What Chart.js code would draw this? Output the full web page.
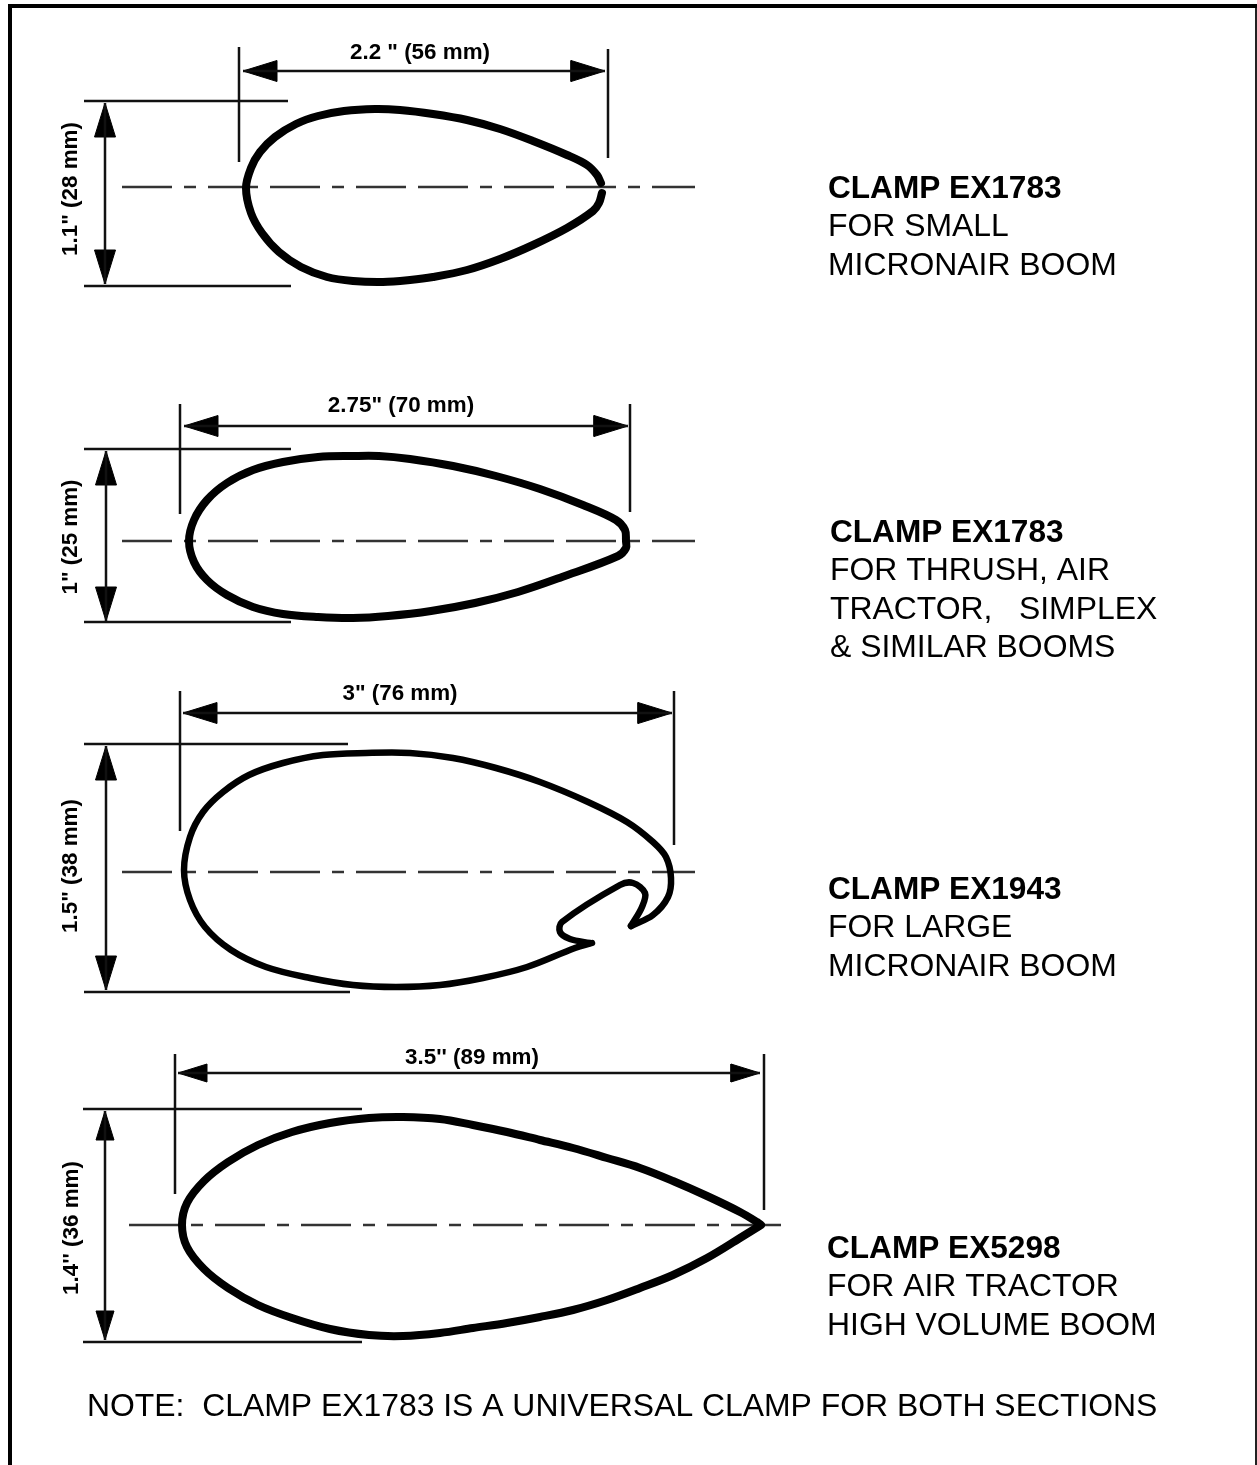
<!DOCTYPE html>
<html>
<head>
<meta charset="utf-8">
<title>Clamps</title>
<script src="https://cdn.jsdelivr.net/npm/chart.js@4/dist/chart.umd.min.js"></script>
<style>
  html, body { margin: 0; padding: 0; background: #fff; }
  canvas { display: block; }
</style>
</head>
<body>
<canvas id="grafico" width="1257" height="1465"></canvas>
<script>
// --- Clamp outlines ---
const clampSmall = [
    [601, 183], [597, 175], [587, 165], [567, 155], [533, 141], [500, 129], [467, 120], [433, 114],
    [400, 110], [375, 109], [344, 111], [318, 116], [296, 124], [275, 137], [260, 152], [251, 168],
    [246, 188], [251, 213], [262, 233], [279, 252], [301, 267], [327, 277], [353, 281], [383, 282],
    [410, 280], [433, 277], [467, 270], [500, 259], [533, 245], [567, 228], [593, 211], [599, 203], [602, 193]
];
const clampThrush = [
    [626, 541], [625, 530], [616, 520], [583, 505], [540, 489], [496, 476], [453, 466], [410, 459],
    [379, 456], [353, 456], [318, 457], [283, 462], [253, 470], [227, 483], [207, 500], [194, 520],
    [189, 541], [194, 562], [207, 580], [227, 595], [253, 607], [283, 614], [318, 617], [353, 618],
    [388, 616], [431, 611], [475, 603], [518, 592], [562, 577], [618, 556], [626, 548], [626, 541]
];
const clampLargeOuter = [
    [631, 926], [653, 915], [668, 897], [671, 878], [666, 857], [653, 842], [627, 822], [588, 802],
    [540, 782], [496, 768], [453, 758], [410, 753], [366, 753], [323, 755], [283, 763], [249, 775],
    [223, 792], [203, 812], [190, 837], [184, 870], [190, 900], [205, 927], [231, 950], [266, 967],
    [310, 978], [353, 985], [396, 987], [440, 985], [483, 978], [527, 967], [575, 948], [592, 943]
];
const clampLargeInner = [
    [590, 943], [570, 939], [560, 932], [562, 922], [620, 885], [633, 883], [645, 893], [642, 907], [631, 926]
];
const clampTractor = [
    [761, 1225], [757, 1222], [740, 1212], [707, 1196], [673, 1181], [640, 1168], [607, 1158], [573, 1148],
    [540, 1140], [507, 1132], [473, 1125], [440, 1119], [403, 1117], [369, 1118], [330, 1123], [292, 1132],
    [258, 1145], [228, 1162], [204, 1181], [187, 1203], [182, 1225], [187, 1247], [204, 1269], [228, 1288],
    [258, 1305], [292, 1318], [330, 1329], [369, 1335], [403, 1336], [440, 1333], [473, 1328], [507, 1323],
    [540, 1317], [573, 1310], [607, 1300], [640, 1288], [673, 1275], [707, 1258], [740, 1238], [761, 1225]
];

// dimension lines: extension marks, guide lines and arrows [x1, y1, x2, y2]
const thinLines = [
    [239, 47, 239, 162], [608, 49, 608, 158], [84, 101, 288, 101], [84, 286, 291, 286],
    [180, 404, 180, 514], [630, 404, 630, 512], [84, 449, 291, 449], [84, 622, 291, 622],
    [180, 691, 180, 831], [674, 691, 674, 845], [84, 744, 348, 744], [84, 992, 350, 992],
    [175, 1054, 175, 1194], [764, 1054, 764, 1210], [83, 1109, 362, 1109], [83, 1342, 362, 1342]
];
const arrows = [
    [243, 71, 605, 71], [105, 103, 105, 284],
    [184, 426, 628, 426], [106, 451, 106, 621],
    [183, 713, 672, 713], [106, 746, 106, 990],
    [178, 1073, 760, 1073], [105, 1111, 105, 1340]
];
const centerLines = [
    [122, 187, 695, 187], [122, 541, 695, 541], [122, 872, 695, 872], [129, 1225, 781, 1225]
];
const frameLine = [[10, 1465], [10, 6], [1257, 6]];
const frameRight = [[1256, 6], [1256, 1465]];

// --- Texts ---
const sideLabels = [
    ['CLAMP EX1783', 'FOR SMALL', 'MICRONAIR BOOM'],
    ['CLAMP EX1783', 'FOR THRUSH, AIR', 'TRACTOR,   SIMPLEX', '& SIMILAR BOOMS'],
    ['CLAMP EX1943', 'FOR LARGE', 'MICRONAIR BOOM'],
    ['CLAMP EX5298', 'FOR AIR TRACTOR', 'HIGH VOLUME BOOM']
];
const widthLabels = ['2.2 " (56 mm)', '2.75" (70 mm)', '3" (76 mm)', "3.5'' (89 mm)"];
const heightLabels = ['1.1" (28 mm)', '1" (25 mm)', '1.5" (38 mm)', "1.4'' (36 mm)"];
const noteLabel = 'NOTE:  CLAMP EX1783 IS A UNIVERSAL CLAMP FOR BOTH SECTIONS';

// --- Layout of the texts ---
const FUENTE = '"Liberation Sans", Arial, sans-serif';
const sidePos = [[828, 198], [830, 542], [828, 899], [827, 1258]];
const sideGap = 38.3;
const widthPos = [[420, 59], [401, 412], [400, 700], [472, 1064]];
const heightPos = [[77, 189], [77, 537], [77, 866], [78, 1228]];

function pts(list) {
    return list.map(p => ({ x: p[0], y: p[1] }));
}

function lineSet(data, width, color, extra) {
    return Object.assign({
        data: data,
        showLine: true,
        borderColor: color,
        borderWidth: width,
        pointRadius: 0,
        fill: false
    }, extra || {});
}

function outlineSet(list, width) {
    return lineSet(pts(list), width, '#000', { tension: 0.35, borderCapStyle: 'round', borderJoinStyle: 'round' });
}

// arrow head as a closed triangle at the end of a dimension line
function headSet(x, y, dx, dy, largo, ancho) {
    const data = [
        { x: x, y: y },
        { x: x - dx * largo - dy * ancho, y: y - dy * largo - dx * ancho },
        { x: x - dx * largo + dy * ancho, y: y - dy * largo + dx * ancho },
        { x: x, y: y }
    ];
    return lineSet(data, 1, '#000', { fill: 'shape', backgroundColor: '#000' });
}

const datasets = [];
datasets.push(outlineSet(clampSmall, 8));
datasets.push(outlineSet(clampThrush, 8));
datasets.push(outlineSet(clampLargeOuter, 6.5));
datasets.push(outlineSet(clampLargeInner, 6.5));
datasets.push(outlineSet(clampTractor, 8));
datasets.push(lineSet(pts(frameLine), 4, '#000'));
datasets.push(lineSet(pts(frameRight), 2, '#222'));

thinLines.forEach(l => {
    datasets.push(lineSet([{ x: l[0], y: l[1] }, { x: l[2], y: l[3] }], 2.5, '#111'));
});
arrows.forEach((l, i) => {
    const dx = Math.sign(l[2] - l[0]), dy = Math.sign(l[3] - l[1]);
    const largo = i >= 6 ? 29 : 34, ancho = i >= 6 ? 9 : 10.5;
    datasets.push(lineSet([{ x: l[0], y: l[1] }, { x: l[2], y: l[3] }], 2.5, '#111'));
    datasets.push(headSet(l[2], l[3], dx, dy, largo, ancho));
    datasets.push(headSet(l[0], l[1], -dx, -dy, largo, ancho));
});
centerLines.forEach((l, i) => {
    const dash = i === 3 ? [50, 12, 12, 12] : [50, 12, 12, 12, 50, 12];
    datasets.push(lineSet([{ x: l[0], y: l[1] }, { x: l[2], y: l[3] }], 2.5, '#333', { borderDash: dash }));
});

// --- Texts drawn on the canvas, in the scale units ---
const textosPlugin = {
    id: 'textos',
    afterDatasetsDraw(chart) {
        const c = chart.ctx, sx = chart.scales.x, sy = chart.scales.y;
        c.save();
        c.fillStyle = '#000';
        c.textBaseline = 'alphabetic';

        sideLabels.forEach((lineas, i) => {
            lineas.forEach((t, j) => {
                c.font = (j === 0 ? 'bold 31.6px ' : '31.9px ') + FUENTE;
                c.textAlign = 'left';
                c.fillText(t, sx.getPixelForValue(sidePos[i][0]), sy.getPixelForValue(sidePos[i][1] + j * sideGap));
            });
        });

        c.font = 'bold 22.4px ' + FUENTE;
        c.textAlign = 'center';
        widthLabels.forEach((t, i) => {
            c.fillText(t, sx.getPixelForValue(widthPos[i][0]), sy.getPixelForValue(widthPos[i][1]));
        });
        heightLabels.forEach((t, i) => {
            c.save();
            c.translate(sx.getPixelForValue(heightPos[i][0]), sy.getPixelForValue(heightPos[i][1]));
            c.rotate(-Math.PI / 2);
            c.fillText(t, 0, 0);
            c.restore();
        });

        c.font = '31.9px ' + FUENTE;
        c.textAlign = 'left';
        c.fillText(noteLabel, sx.getPixelForValue(87), sy.getPixelForValue(1416));
        c.restore();
    }
};

new Chart(document.getElementById('grafico').getContext('2d'), {
    type: 'scatter',
    data: { datasets: datasets },
    options: {
        responsive: false,
        animation: false,
        devicePixelRatio: 1,
        layout: { padding: 0 },
        plugins: { legend: { display: false }, tooltip: { enabled: false }, title: { display: false } },
        scales: {
            x: { type: 'linear', display: false, min: 0, max: 1257 },
            y: { type: 'linear', display: false, min: 0, max: 1465, reverse: true }
        }
    },
    plugins: [textosPlugin]
});
</script>
</body>
</html>
